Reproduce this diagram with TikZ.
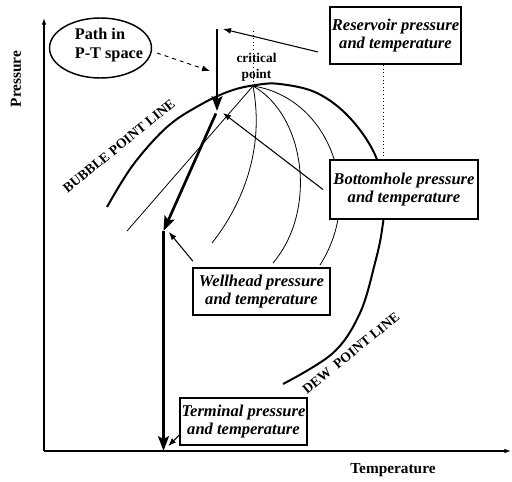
\documentclass[tikz,border=0pt]{standalone}
\usepackage{fontspec}
\setmainfont{Liberation Serif}
\usetikzlibrary{arrows.meta}

\tikzset{
  infobox/.style={draw, line width=1.5pt, fill=white, align=center, inner sep=1pt,
    font=\fontsize{12.4}{14.2}\selectfont\bfseries\itshape},
  phaseline/.style={line width=1.5pt},
  qualline/.style={line width=0.6pt},
  pathline/.style={line width=2pt, -{Stealth[length=11pt,width=8pt,inset=2pt]}},
  callout/.style={line width=0.8pt, -{Latex[length=6pt,width=4.5pt]}},
  axisarrow/.style={line width=0.9pt, -{Latex[length=5pt,width=3.5pt]}},
  boldlbl/.style={inner sep=0pt, font=\fontsize{11.5}{14}\selectfont\bfseries},
  envlbl/.style={inner sep=0pt, rotate=39, font=\fontsize{10.3}{12}\selectfont\bfseries},
}

\begin{document}
\begin{tikzpicture}[x=0.75pt,y=0.75pt,yscale=-1,xscale=1]
\useasboundingbox (0,0) rectangle (512,482);

% Coordinates
\coordinate (origin) at (44,451);
\coordinate (ytop) at (44,18);
\coordinate (xend) at (511,451);
\coordinate (resv) at (217,29);
\coordinate (bubl) at (217,111);
\coordinate (wellh) at (163.5,231);
\coordinate (termi) at (163.5,451);
\coordinate (crit) at (253,86);
\coordinate (dashfrom) at (157,53);
\coordinate (dashto) at (210,71);
\coordinate (resfoot) at (318,52);

%Straight Lines: axes
\draw [axisarrow] (origin) -- (ytop);
\draw [axisarrow] (origin) -- (xend);

%Curve Lines: phase envelope
\draw [phaseline] plot [smooth, tension=0.6] coordinates {(107,207) (133,165) (167,127) (200,105) (230,91) (256,85) (280,84) (317,93) (350,118) (376,157) (384,200) (382,230) (375,263) (360,313) (333,353) (283,384)};
%Curve Lines: quality lines
\draw [qualline] (crit) -- (127,231);
\draw [qualline] (crit) .. controls (265,150) and (242,205) .. (212,243);
\draw [qualline] (crit) .. controls (305,115) and (318,210) .. (273,263);
\draw [qualline] (crit) .. controls (330,98) and (365,195) .. (320,265);
%Straight Lines: dotted marker
\draw [dotted, line width=0.7pt] (crit) -- (crit |- resv);

% Text Node
\node [boldlbl, font=\fontsize{10}{12}\selectfont\bfseries, align=center] (critlbl) at (256.5,67) {critical\\point};
% Text Node
\node [boldlbl, rotate=90] (plabel) at (16,79) {Pressure};
% Text Node
\node [boldlbl] (tlabel) at (393,470) {Temperature};
% Text Node
\node [envlbl] (bubblbl) at (119,146) {BUBBLE POINT LINE};
% Text Node
\node [envlbl] (dewlbl) at (351,353) {DEW\ \ POINT LINE};

%Shape: Ellipse
\draw [line width=1.1pt] (100.5,48) ellipse (51 and 30);
% Text Node
\node [boldlbl, font=\fontsize{12.2}{14.25}\selectfont\bfseries, align=left] (ptlbl) at (109,45.5) {Path in\\P-T space};

% Boxes
\node [infobox, minimum width=98pt, minimum height=43pt] (res) at (395.5,35.5) {Reservoir pressure\\and temperature};
\node [infobox, minimum width=111pt, minimum height=44pt] (bot) at (404,189.5) {Bottomhole pressure\\and temperature};
\node [infobox, minimum width=103pt, minimum height=35pt] (wel) at (261.5,291.5) {Wellhead pressure\\and temperature};
\node [infobox, minimum width=94pt, minimum height=35pt] (ter) at (243.5,421.5) {Terminal pressure\\and temperature};

%Straight Lines: dotted link
\draw [dotted, line width=0.7pt] ([xshift=-9.4pt]res.south) -- ([xshift=-9.4pt]res.south |- bot.north);

%Straight Lines: path in P-T space
\draw [pathline] (resv) -- (bubl);
\draw [pathline, shorten <=2pt] (bubl) -- (wellh);
\draw [pathline] (wellh) -- (termi);

%Straight Lines: callouts
\draw [dashed, line width=0.7pt, -{Latex[length=6pt,width=4.5pt]}] (dashfrom) -- (dashto);
\draw [callout] (resfoot) -- ([xshift=4.5pt]resv);
\draw [callout] ([xshift=-4.5pt]bot.west) -- ([xshift=4.5pt,yshift=1.5pt]bubl);
\draw [callout] ([xshift=0.75pt,yshift=-4.5pt]wel.north west) -- ([xshift=4pt,yshift=0.75pt]wellh);
\draw [callout] ([yshift=-8pt]ter.south west) -- ([xshift=3.5pt,yshift=-3.75pt]termi);

\end{tikzpicture}
\end{document}
